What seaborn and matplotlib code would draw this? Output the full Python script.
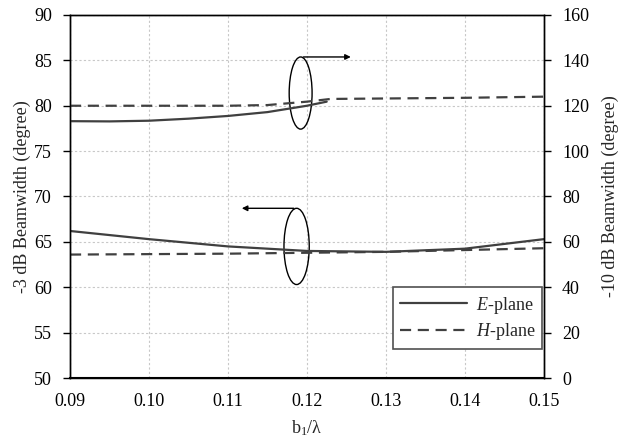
import numpy as np
import pandas as pd
import seaborn as sns
import matplotlib.pyplot as plt
from matplotlib.lines import Line2D
from matplotlib.patches import Ellipse

# b1/lambda
x_e3 = [0.09, 0.10, 0.11, 0.12, 0.13, 0.14, 0.15]
e_3db = [66.2, 65.3, 64.5, 64.0, 63.9, 64.25, 65.3]
h_3db = [63.6, 63.65, 63.7, 63.8, 63.9, 64.1, 64.3]

x_e10 = [0.09, 0.095, 0.10, 0.105, 0.11, 0.115, 0.12, 0.1225]
e_10db = [113.2, 113.1, 113.4, 114.3, 115.5, 117.2, 120.0, 121.8]
x_h10 = [0.09, 0.10, 0.11, 0.115, 0.12, 0.123, 0.13, 0.14, 0.15]
h_10db = [120.0, 120.0, 120.0, 120.3, 121.8, 123.0, 123.2, 123.5, 124.0]

x_ticks = [0.09, 0.10, 0.11, 0.12, 0.13, 0.14, 0.15]

sns.set_style("white")
plt.rcParams['font.family'] = ['Liberation Serif', 'DejaVu Serif']
plt.rcParams['mathtext.fontset'] = 'custom'
plt.rcParams['mathtext.rm'] = 'Liberation Serif'
plt.rcParams['mathtext.it'] = 'Liberation Serif:italic'
plt.rcParams['font.size'] = 13

col = '#404040'
dash = (0, (5, 3))

fig, ax = plt.subplots(figsize=(6.23, 4.37), dpi=100)
fig.subplots_adjust(left=0.1124, right=0.873, top=0.9657, bottom=0.135)
ax2 = ax.twinx()

sns.lineplot(x=x_e3, y=e_3db, ax=ax, color=col, lw=1.6)
sns.lineplot(x=x_e3, y=h_3db, ax=ax, color=col, lw=1.6, linestyle=dash)
sns.lineplot(x=x_e10, y=e_10db, ax=ax2, color=col, lw=1.6)
sns.lineplot(x=x_h10, y=h_10db, ax=ax2, color=col, lw=1.6, linestyle=dash)

ax.set_xlim(0.09, 0.15)
ax.set_ylim(50, 90)
ax2.set_ylim(0, 160)
ax.set_xticks(x_ticks)
ax.set_xticklabels([f"{v:.2f}" for v in x_ticks])
ax.set_yticks(np.arange(50, 91, 5))
ax2.set_yticks(np.arange(0, 161, 20))
ax.grid(True, color='#c8c8c8', linestyle=(0, (2, 2)), lw=0.8)
ax.set_axisbelow(True)

for a in (ax, ax2):
    a.tick_params(direction='out', length=5, width=1, colors='black', labelsize=13, pad=8)
    for s in a.spines.values():
        s.set_color('black')
        s.set_linewidth(1)
ax.tick_params(axis='x', pad=6)
ax.spines['bottom'].set_linewidth(1.5)

ax.set_xlabel(r"b$_1$/λ", fontsize=13, labelpad=6)
ax.set_ylabel("-3 dB Beamwidth (degree)", fontsize=13, labelpad=2)
ax2.set_ylabel("-10 dB Beamwidth (degree)", fontsize=13, labelpad=9)

# ellipse + arrow annotations
ax2.add_patch(Ellipse((0.1192, 125.6), 0.0029, 31.8, fill=False, ec='black', lw=1.0))
ax2.annotate("", xy=(0.1259, 141.5), xytext=(0.1192, 141.5),
             arrowprops=dict(arrowstyle='-|>', color='black', lw=1.0, mutation_scale=8))
ax.add_patch(Ellipse((0.11869, 64.5), 0.0032, 8.4, fill=False, ec='black', lw=1.0))
ax.annotate("", xy=(0.1114, 68.7), xytext=(0.11869, 68.7),
            arrowprops=dict(arrowstyle='-|>', color='black', lw=1.0, mutation_scale=8))

handles = [Line2D([], [], color=col, lw=1.6),
           Line2D([], [], color=col, lw=1.6, linestyle=dash)]
leg = ax2.legend(handles, [r"$\it{E}$-plane", r"$\it{H}$-plane"], loc='lower right',
                 bbox_to_anchor=(0.997, 0.079), borderaxespad=0, frameon=True, fancybox=False,
                 edgecolor='#505050', framealpha=1, fontsize=13, handlelength=3.7,
                 borderpad=0.4, labelspacing=0.3, handletextpad=0.5)
leg.get_frame().set_linewidth(1.2)

plt.savefig('out.png', dpi=100)
